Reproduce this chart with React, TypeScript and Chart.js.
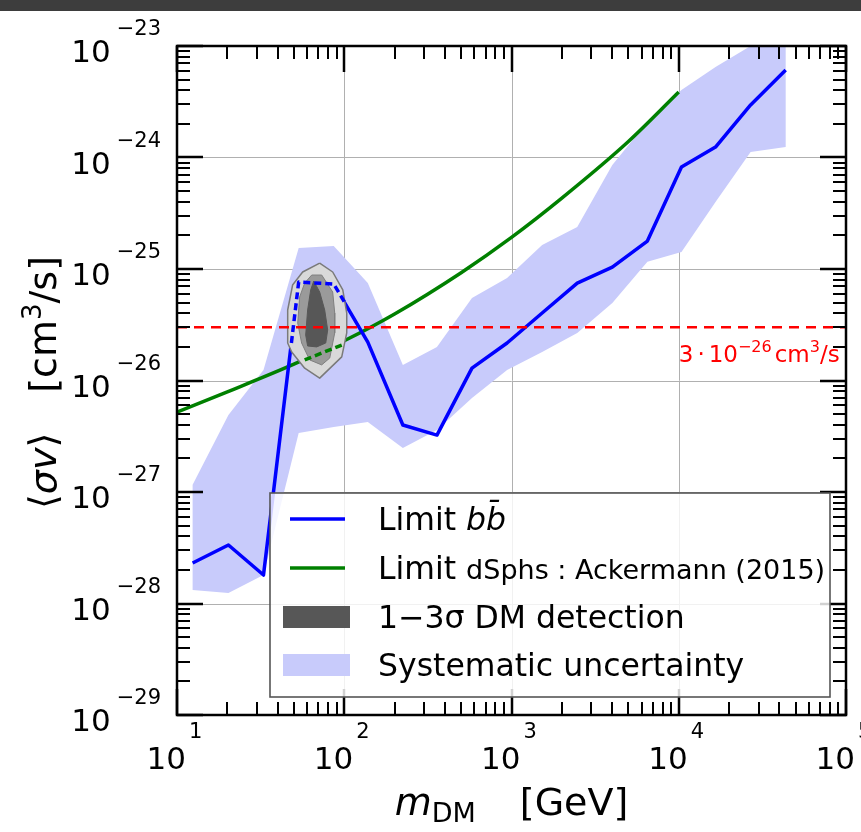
import React, { useEffect, useRef } from 'react';
import { Chart, registerables } from 'chart.js';

Chart.register(...registerables);

const FONT = '"DejaVu Sans", "Liberation Sans", sans-serif';

// ---- data ----
const massGrid = [12.4, 20.3, 32.9, 53.4, 86.5, 138.3, 224.1, 358.3, 580.4, 941, 1525, 2472, 4007, 6494, 10380, 16590, 26890, 43590];
const limitBB = [2.31e-28, 3.35e-28, 1.8e-28, 7.64e-26, 7.33e-26, 2.21e-26, 3.99e-27, 3.24e-27, 1.29e-26, 2.17e-26, 4.03e-26, 7.48e-26, 1.04e-25, 1.78e-25, 8.22e-25, 1.24e-24, 2.96e-24, 6.1e-24];
const systUpper = [1.16e-27, 4.91e-27, 1.24e-26, 1.54e-25, 1.61e-25, 7.48e-26, 1.38e-26, 2.0e-26, 5.5e-26, 8.3e-26, 1.64e-25, 2.38e-25, 8.57e-25, 2.08e-24, 4.03e-24, 6.48e-24, 1.0e-23, 1.0e-23];
const systLower = [1.32e-28, 1.24e-28, 1.8e-28, 3.38e-27, 3.83e-27, 4.25e-27, 2.48e-27, 3.6e-27, 6.97e-27, 1.24e-26, 1.8e-26, 2.67e-26, 4.95e-26, 1.16e-25, 1.42e-25, 3.99e-25, 1.12e-24, 1.24e-24];

const dsphMass = [10, 20, 50, 100, 200, 500, 1000, 2000, 5000, 10000];
const dsphLimit = [5.21e-27, 7.91e-27, 1.4e-26, 2.27e-26, 3.95e-26, 9.27e-26, 1.92e-25, 4.32e-25, 1.39e-24, 3.86e-24];

// parts of the limits hidden by the detection contour (drawn dashed on top)
const bbInsideMass = [48.3, 53.4, 86.5, 100.7];
const bbInsideSigma = [2.17e-26, 7.64e-26, 7.33e-26, 5.0e-26];
const dsphInsideMass = [58.0, 96.6];
const dsphInsideSigma = [1.53e-26, 2.08e-26];

// detection contours
const sigma3Mass = [71.3, 85.3, 98.0, 103.5, 103.5, 96.6, 71.3, 58.0, 48.5, 45.9, 45.9, 49.1, 56.4];
const sigma3Sigma = [1.13e-25, 9.4e-26, 6.49e-26, 4.03e-26, 2.67e-26, 1.63e-26, 1.05e-26, 1.29e-26, 1.8e-26, 2.17e-26, 4.29e-26, 7.18e-26, 9.4e-26];
const sigma2Mass = [63.9, 73.3, 85.3, 87.7, 87.7, 81.9, 73.3, 62.1, 55.6, 52.7, 54.1, 58.0];
const sigma2Sigma = [8.83e-26, 8.83e-26, 6.22e-26, 4.03e-26, 2.67e-26, 1.59e-26, 1.38e-26, 1.53e-26, 2.17e-26, 3.28e-26, 5.61e-26, 7.48e-26];
const sigma1Mass = [65.7, 71.3, 76.4, 79.6, 77.5, 68.4, 60.4, 58.8, 60.4, 63.0];
const sigma1Sigma = [7.8e-26, 6.22e-26, 4.29e-26, 2.84e-26, 2.17e-26, 2.0e-26, 2.04e-26, 2.56e-26, 4.29e-26, 6.49e-26];

const thermalRelic = 3e-26;
const xRange = [10, 1e5];
const yRange = [1e-29, 1e-23];
const xExponents = [1, 2, 3, 4, 5];
const yExponents = [-29, -28, -27, -26, -25, -24, -23];

// ---- styling ----
const BLUE = '#0000ff';
const GREEN = '#008000';
const RED = '#ff0000';
const BAND = '#c8cbfb';
const DARK = '#575757';

type Piece = { t: string; size: number; italic?: boolean; dy?: number; gap?: number; color?: string };

const fontOf = (p: Piece) => `${p.italic ? 'italic ' : ''}${p.size}px ${FONT}`;

function piecesWidth(ctx: CanvasRenderingContext2D, pieces: Piece[]) {
  let w = 0;
  for (const p of pieces) {
    ctx.font = fontOf(p);
    w += (p.gap || 0) + ctx.measureText(p.t).width;
  }
  return w;
}

function drawPieces(ctx: CanvasRenderingContext2D, pieces: Piece[], x: number, y: number, color = '#000') {
  let cx = x;
  ctx.textAlign = 'left';
  ctx.textBaseline = 'alphabetic';
  for (const p of pieces) {
    cx += p.gap || 0;
    ctx.font = fontOf(p);
    ctx.fillStyle = p.color || color;
    ctx.fillText(p.t, cx, y + (p.dy || 0));
    cx += ctx.measureText(p.t).width;
  }
  return cx;
}

const expStr = (e: number) => (e < 0 ? '\u2212' + Math.abs(e) : String(e));

const pts = (ms: number[], ss: number[]) => ms.map((m, i) => ({ x: m, y: ss[i] }));
const closed = (ms: number[], ss: number[]) => {
  const p = pts(ms, ss);
  return [...p, p[0]];
};

const backgroundPlugin = {
  id: 'bg',
  beforeDraw(chart: any) {
    const { ctx, width, height } = chart;
    ctx.save();
    ctx.fillStyle = '#ffffff';
    ctx.fillRect(0, 0, width, height);
    ctx.fillStyle = '#3d3d3d';
    ctx.fillRect(0, 0, width, 11);
    ctx.restore();
  },
};

const gridPlugin = {
  id: 'grid',
  beforeDatasetsDraw(chart: any) {
    const { ctx, chartArea: a, scales } = chart;
    const x = scales.x;
    const y = scales.y;
    ctx.save();
    ctx.strokeStyle = '#b0b0b0';
    ctx.lineWidth = 1;
    for (const e of xExponents) {
      const px = Math.round(x.getPixelForValue(10 ** e)) + 0.5;
      if (px <= a.left + 2 || px >= a.right - 2) continue;
      ctx.beginPath();
      ctx.moveTo(px, a.top);
      ctx.lineTo(px, a.bottom);
      ctx.stroke();
    }
    for (const e of yExponents) {
      const py = Math.round(y.getPixelForValue(10 ** e)) + 0.5;
      if (py <= a.top + 2 || py >= a.bottom - 2) continue;
      ctx.beginPath();
      ctx.moveTo(a.left, py);
      ctx.lineTo(a.right, py);
      ctx.stroke();
    }
    ctx.restore();
  },
};

const overlayPlugin = {
  id: 'overlay',
  afterDatasetsDraw(chart: any) {
    const { ctx, chartArea: a, scales } = chart;
    const x = scales.x;
    const y = scales.y;
    ctx.save();
    ctx.strokeStyle = '#000';
    ctx.lineCap = 'butt';
    const MAJ = 26;
    const MIN = 13;
    // x ticks (bottom & top, inward)
    for (let i = 0; i < xExponents.length; i++) {
      const e = xExponents[i];
      const ks = i === xExponents.length - 1 ? [1] : [1, 2, 3, 4, 5, 6, 7, 8, 9];
      for (const k of ks) {
        const px = Math.round(x.getPixelForValue(k * 10 ** e));
        const len = k === 1 ? MAJ : MIN;
        ctx.lineWidth = k === 1 ? 2.5 : 2;
        ctx.beginPath();
        ctx.moveTo(px, a.bottom);
        ctx.lineTo(px, a.bottom - len);
        ctx.moveTo(px, a.top);
        ctx.lineTo(px, a.top + len);
        ctx.stroke();
      }
    }
    for (let i = 0; i < yExponents.length; i++) {
      const e = yExponents[i];
      const ks = i === yExponents.length - 1 ? [1] : [1, 2, 3, 4, 5, 6, 7, 8, 9];
      for (const k of ks) {
        const py = Math.round(y.getPixelForValue(k * 10 ** e));
        const len = k === 1 ? MAJ : MIN;
        ctx.lineWidth = k === 1 ? 2.5 : 2;
        ctx.beginPath();
        ctx.moveTo(a.left, py);
        ctx.lineTo(a.left + len, py);
        ctx.moveTo(a.right, py);
        ctx.lineTo(a.right - len, py);
        ctx.stroke();
      }
    }
    // frame
    ctx.lineWidth = 2.5;
    ctx.strokeRect(a.left, a.top, a.right - a.left, a.bottom - a.top);

    // thermal relic annotation
    const ry = y.getPixelForValue(thermalRelic);
    drawPieces(
      ctx,
      [
        { t: '3', size: 23 },
        { t: '\u00b7', size: 23, gap: 4 },
        { t: '10', size: 23, gap: 4 },
        { t: '\u221226', size: 16, dy: -10 },
        { t: 'cm', size: 23, gap: 3 },
        { t: '3', size: 16, dy: -10 },
        { t: '/s', size: 23 },
      ],
      x.getPixelForValue(10000),
      ry + 35,
      RED
    );

    // legend
    const lx = a.left + 93;
    const ly = a.top + 447;
    const lw = 560;
    const lh = 204;
    ctx.fillStyle = 'rgba(255,255,255,0.82)';
    ctx.fillRect(lx, ly, lw, lh);
    ctx.strokeStyle = '#555';
    ctx.lineWidth = 1.6;
    ctx.strokeRect(lx, ly, lw, lh);

    const tx = lx + 108;
    const rows = [ly + 37, ly + 86, ly + 135, ly + 183];
    // handles
    ctx.lineWidth = 3.5;
    ctx.strokeStyle = BLUE;
    ctx.beginPath();
    ctx.moveTo(lx + 20, rows[0] - 11);
    ctx.lineTo(lx + 75, rows[0] - 11);
    ctx.stroke();
    ctx.strokeStyle = GREEN;
    ctx.beginPath();
    ctx.moveTo(lx + 20, rows[1] - 11);
    ctx.lineTo(lx + 75, rows[1] - 11);
    ctx.stroke();
    ctx.fillStyle = DARK;
    ctx.fillRect(lx + 13, rows[2] - 22, 67, 22);
    ctx.fillStyle = BAND;
    ctx.fillRect(lx + 13, rows[3] - 22, 67, 22);

    drawPieces(ctx, [{ t: 'Limit ', size: 31.5 }, { t: 'bb\u0304', size: 31.5, italic: true }], tx, rows[0]);
    drawPieces(ctx, [{ t: 'Limit ', size: 31.5 }, { t: 'dSphs : Ackermann (2015)', size: 27 }], tx, rows[1]);
    drawPieces(ctx, [{ t: '1\u22123\u03c3 DM detection', size: 31.5 }], tx, rows[2]);
    drawPieces(ctx, [{ t: 'Systematic uncertainty', size: 31.5 }], tx, rows[3]);
    ctx.restore();
  },
  afterDraw(chart: any) {
    const { ctx, chartArea: a, scales } = chart;
    const x = scales.x;
    const y = scales.y;
    ctx.save();
    ctx.fillStyle = '#000';
    // x tick labels
    for (const e of xExponents) {
      const px = x.getPixelForValue(10 ** e);
      ctx.font = `31px ${FONT}`;
      ctx.textAlign = 'right';
      ctx.textBaseline = 'alphabetic';
      ctx.fillText('10', px + 9, a.bottom + 54);
      ctx.font = `21px ${FONT}`;
      ctx.textAlign = 'left';
      ctx.fillText(expStr(e), px + 12, a.bottom + 23);
    }
    // y tick labels
    for (const e of yExponents) {
      const py = y.getPixelForValue(10 ** e);
      const rx = a.left - 16;
      ctx.font = `21px ${FONT}`;
      ctx.textAlign = 'right';
      const s = expStr(e);
      const w = ctx.measureText(s).width;
      ctx.fillText(s, rx, py - 11);
      ctx.font = `31px ${FONT}`;
      ctx.fillText('10', rx - w - 6, py + 16);
    }
    // x title
    const xt: Piece[] = [
      { t: 'm', size: 38, italic: true },
      { t: 'DM', size: 27, dy: 7 },
      { t: '[GeV]', size: 38, gap: 44 },
    ];
    const cx = (a.left + a.right) / 2;
    drawPieces(ctx, xt, cx - piecesWidth(ctx, xt) / 2, 815);
    // y title (rotated)
    const yt: Piece[] = [
      { t: '\u27e8', size: 38 },
      { t: '\u03c3v', size: 38, italic: true },
      { t: '\u27e9', size: 38 },
      { t: '[cm', size: 38, gap: 40 },
      { t: '3', size: 26, dy: -15 },
      { t: '/s]', size: 38 },
    ];
    ctx.translate(56, (a.top + a.bottom) / 2 + 2);
    ctx.rotate(-Math.PI / 2);
    drawPieces(ctx, yt, -piecesWidth(ctx, yt) / 2, 0);
    ctx.restore();
  },
};

export default function App() {
  const ref = useRef<HTMLCanvasElement>(null);
  useEffect(() => {
    if (!ref.current) return;
    const line = (extra: any) => ({
      pointRadius: 0,
      pointHoverRadius: 0,
      tension: 0,
      fill: false,
      borderJoinStyle: 'round',
      borderCapStyle: 'butt',
      ...extra,
    });
    const chart = new Chart(ref.current, {
      type: 'line',
      data: {
        datasets: [
          line({
            label: 'Systematic uncertainty',
            data: [...pts(massGrid, systUpper), ...pts(massGrid, systLower).reverse()],
            fill: 'shape',
            backgroundColor: BAND,
            borderColor: 'rgba(0,0,0,0)',
            borderWidth: 0,
            order: 10,
          }),
          line({
            label: 'Limit dSphs',
            data: pts(dsphMass, dsphLimit),
            borderColor: GREEN,
            borderWidth: 3.5,
            cubicInterpolationMode: 'monotone',
            order: 8,
          }),
          line({
            label: 'Limit bb',
            data: pts(massGrid, limitBB),
            borderColor: BLUE,
            borderWidth: 3.5,
            order: 7,
          }),
          line({
            label: '3 sigma',
            data: closed(sigma3Mass, sigma3Sigma),
            fill: 'shape',
            backgroundColor: '#d9d9d9',
            borderColor: '#7a7a7a',
            borderWidth: 1.5,
            order: 6,
          }),
          line({
            label: '2 sigma',
            data: closed(sigma2Mass, sigma2Sigma),
            fill: 'shape',
            backgroundColor: '#9a9a9a',
            borderColor: '#808080',
            borderWidth: 1,
            order: 5,
          }),
          line({
            label: '1 sigma',
            data: closed(sigma1Mass, sigma1Sigma),
            fill: 'shape',
            backgroundColor: DARK,
            borderColor: DARK,
            borderWidth: 1,
            order: 4,
          }),
          line({
            label: 'dSphs inside',
            data: pts(dsphInsideMass, dsphInsideSigma),
            borderColor: GREEN,
            borderWidth: 3.5,
            borderDash: [7, 4],
            order: 3,
          }),
          line({
            label: 'bb inside',
            data: pts(bbInsideMass, bbInsideSigma),
            borderColor: BLUE,
            borderWidth: 3.5,
            borderDash: [7, 4],
            order: 2,
          }),
          line({
            label: 'thermal',
            data: [
              { x: xRange[0], y: thermalRelic },
              { x: xRange[1], y: thermalRelic },
            ],
            borderColor: RED,
            borderWidth: 2.5,
            borderDash: [10, 7],
            order: 1,
          }),
        ],
      },
      options: {
        animation: false,
        responsive: false,
        devicePixelRatio: 1,
        events: [],
        layout: { padding: { left: 177, right: 15, top: 46, bottom: 117 } },
        plugins: {
          legend: { display: false },
          tooltip: { enabled: false },
        },
        scales: {
          x: { type: 'logarithmic', min: xRange[0], max: xRange[1], display: false },
          y: { type: 'logarithmic', min: yRange[0], max: yRange[1], display: false },
        },
      } as any,
      plugins: [backgroundPlugin, gridPlugin, overlayPlugin],
    });
    return () => chart.destroy();
  }, []);
  return (
    <canvas
      ref={ref}
      width={861}
      height={832}
      style={{ position: 'fixed', left: 0, top: 0, width: 861, height: 832, display: 'block' }}
    />
  );
}
